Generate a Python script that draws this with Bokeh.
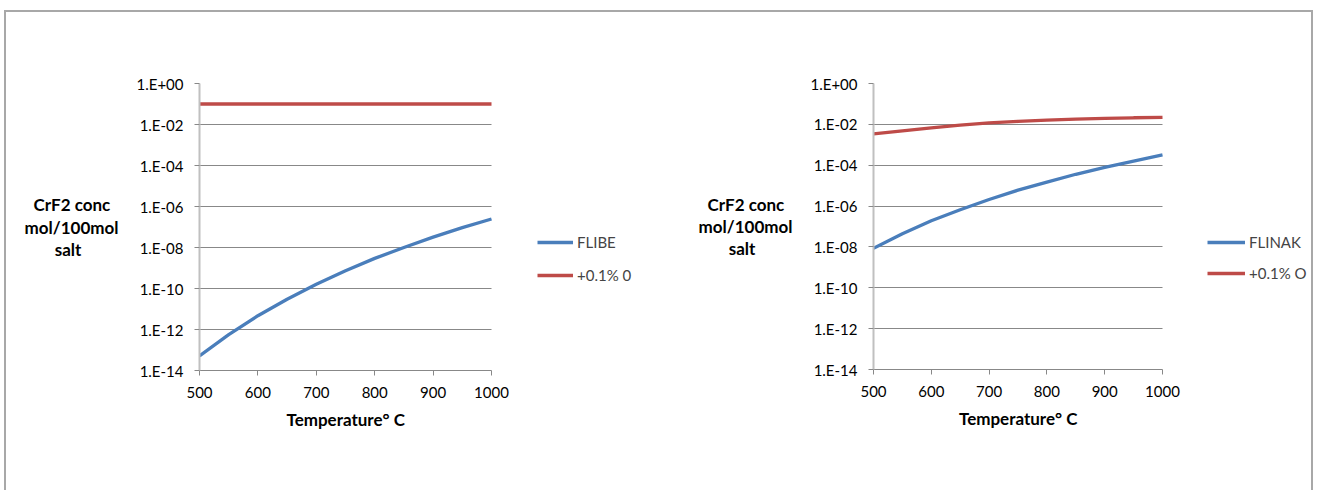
from bokeh.plotting import figure
from bokeh.models import (Legend, LegendItem, FixedTicker, Title,
                          CustomJSTickFormatter)
from bokeh.layouts import row
from bokeh.embed import file_html
from bokeh.resources import INLINE

# ---------------- data ----------------
temps = [500, 550, 600, 650, 700, 750, 800, 850, 900, 950, 1000]

flibe = [5.2e-14, 5.6e-13, 4.7e-12, 3.0e-11, 1.6e-10, 7.4e-10,
         2.95e-9, 1.0e-8, 3.2e-8, 9.3e-8, 2.45e-7]
flibe_o = [0.1, 0.1, 0.1, 0.1, 0.1, 0.1, 0.1, 0.1, 0.1, 0.1, 0.1]

flinak = [8.5e-9, 4.4e-8, 1.9e-7, 6.6e-7, 2.1e-6, 6.0e-6,
          1.5e-5, 3.6e-5, 7.9e-5, 1.6e-4, 3.2e-4]
flinak_o = [3.4e-3, 4.8e-3, 6.8e-3, 9.1e-3, 1.17e-2, 1.4e-2,
            1.6e-2, 1.8e-2, 1.95e-2, 2.1e-2, 2.2e-2]

x_ticks = [500, 600, 700, 800, 900, 1000]
y_ticks = [1e-14, 1e-12, 1e-10, 1e-8, 1e-6, 1e-4, 1e-2, 1e0]
x_lo, x_hi = 500, 1000

NB = "\u00a0"
# lines padded with no-break spaces so that the right-aligned label looks centred
y_title = "CrF2 conc" + NB * 2 + "\nmol/100mol\nsalt" + NB * 9
x_title = "Temperature\u00b0 C"

BLUE = "#4a7ebb"
RED = "#be4b48"
GRID = "#888888"
FONT = "Lato"
FS = "15px"
FS_T = "17px"
H = 478


def make_fig(width, pw, fh, bl, bt, series, labels, legend_loc,
             glyph_w, spacing, xt_off):
    # pw = pixel width of the 500..1000 plot area; the frame extends
    # further right so that the legend (inside the frame) is not clipped
    br = 2
    fw = width - bl - br
    x_end = x_lo + (x_hi - x_lo) * fw / pw
    p = figure(x_range=(x_lo, x_end), y_range=(1e-14, 1), y_axis_type="log",
               frame_width=fw, frame_height=fh,
               min_border_left=bl, min_border_right=br,
               min_border_top=bt, min_border_bottom=H - bt - fh,
               output_backend="svg", toolbar_location=None)
    p.outline_line_color = None

    p.xgrid.grid_line_color = None
    p.ygrid.ticker = FixedTicker(ticks=y_ticks)
    p.ygrid.grid_line_color = GRID
    p.ygrid.grid_line_width = 1
    p.ygrid.cross_bounds = (x_lo, x_hi)

    p.yaxis.ticker = FixedTicker(ticks=y_ticks)
    p.yaxis.formatter = CustomJSTickFormatter(code="""
        const e = Math.round(Math.log10(tick));
        const s = e < 0 ? '-' : '+';
        const a = Math.abs(e);
        return '1.E' + s + (a < 10 ? '0' : '') + a;
    """)
    p.xaxis.ticker = FixedTicker(ticks=x_ticks)
    p.xaxis.bounds = (x_lo, x_hi)

    for ax in (p.xaxis, p.yaxis):
        ax.major_tick_in = 0
        ax.major_tick_out = 5
        ax.minor_tick_line_color = None
        ax.major_tick_line_color = GRID
        ax.major_label_text_font = FONT
        ax.major_label_text_font_size = FS
        ax.major_label_text_color = "#000000"
    p.xaxis.axis_line_color = GRID
    p.xaxis.major_label_standoff = 11

    p.yaxis.axis_line_color = "#c0c0c0"
    p.yaxis.axis_line_width = 2
    p.yaxis.major_label_standoff = 11
    p.yaxis.axis_label = y_title
    p.yaxis.axis_label_orientation = "horizontal"
    p.yaxis.axis_label_text_font = FONT
    p.yaxis.axis_label_text_font_size = FS_T
    p.yaxis.axis_label_text_font_style = "bold"
    p.yaxis.axis_label_text_color = "#000000"
    p.yaxis.axis_label_text_line_height = 1.07
    p.yaxis.axis_label_standoff = 15

    # x-axis title, centred under the 500..1000 span
    p.add_layout(Title(text=x_title, align="left", offset=xt_off,
                       standoff=13, text_font=FONT, text_font_size=FS_T,
                       text_font_style="bold", text_color="#000000"),
                 "below")

    items = []
    for ys, color, lab in zip(series, [BLUE, RED], labels):
        r = p.line(temps, ys, line_color=color, line_width=3.3)
        items.append(LegendItem(label=lab, renderers=[r]))

    leg = Legend(items=items, location=legend_loc,
                 border_line_color=None, background_fill_alpha=0,
                 label_text_font=FONT, label_text_font_size=FS,
                 glyph_width=glyph_w, glyph_height=20, label_height=20,
                 label_standoff=4, spacing=spacing, padding=0, margin=0)
    p.add_layout(leg, "center")
    return p


p1 = make_fig(677, 292, 287, 193, 71, [flibe, flibe_o],
              ["FLIBE", "+0.1% 0"], (338, 85), 36, 13, 87)
p2 = make_fig(628, 289, 286, 190, 70, [flinak, flinak_o],
              ["FLINAK", "+0.1% O"], (334, 86), 38, 11, 85.5)

layout = row(p1, p2,
             styles={"margin-top": "10px", "margin-left": "4px",
                     "border-top": "2px solid #a8a8a8",
                     "border-left": "2px solid #a8a8a8",
                     "border-right": "2px solid #a8a8a8"})

open("out.html", "w").write(file_html(layout, INLINE))
